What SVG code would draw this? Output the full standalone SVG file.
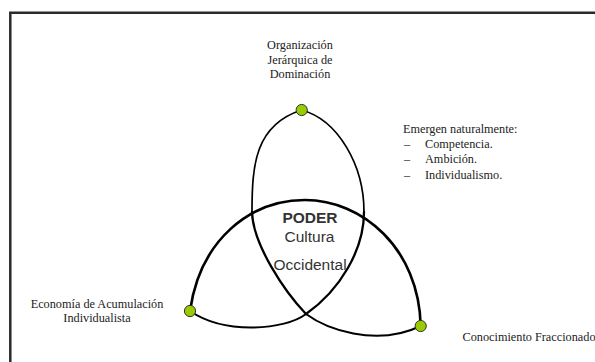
<svg xmlns="http://www.w3.org/2000/svg" width="595" height="362" viewBox="0 0 595 362">
  <style>
    .serif { font-family: "Liberation Serif", "Times New Roman", serif; font-size: 12.25px; fill: #222; }
    .sans { font-family: "Liberation Sans", Arial, sans-serif; font-size: 15.5px; fill: #333; text-anchor: middle; }
    .curve { fill: none; stroke: #000; stroke-linecap: round; }
    .dot { fill: #99cc00; stroke: #333; stroke-width: 1; }
  </style>
  <rect x="0" y="0" width="595" height="362" fill="#fff"/>
  <path d="M10.3,362 V12.8 H595" fill="none" stroke="#2a2a2a" stroke-width="2.5"/>

  <g id="connectors">
    <!-- curve A: top dot, left arc, through center, to right dot -->
    <path class="curve" stroke-width="1.7" d="M301.7,110 C255,125 252,165 252,212"/>
    <path class="curve" stroke-width="2.3" d="M252,212 C253,245 285,292 306,314"/>
    <path class="curve" stroke-width="2" d="M306,314 C325,328 375,348 420.7,326"/>
    <!-- curve B: top dot, right arc, through center, to left dot -->
    <path class="curve" stroke-width="1.7" d="M301.7,110 C338,120 364,165 364,212"/>
    <path class="curve" stroke-width="2.3" d="M364,212 C364,250 340,290 306,314"/>
    <path class="curve" stroke-width="2" d="M306,314 C285,330 225,335 190,311"/>
    <!-- curve C: left dot arching over to right dot -->
    <path class="curve" stroke-width="2.6" d="M190,311 C200,240 250,200 305,200 C362,200 419,248 420.7,326"/>
  </g>

  <g id="node-organizacion">
    <text class="serif" text-anchor="middle" x="300" y="49">Organización</text>
    <text class="serif" text-anchor="middle" x="300" y="63.5">Jerárquica de</text>
    <text class="serif" text-anchor="middle" x="300" y="78">Dominación</text>
    <circle class="dot" cx="301.7" cy="110" r="5.6"/>
  </g>

  <g id="node-economia">
    <text class="serif" text-anchor="middle" x="97" y="308">Economía de Acumulación</text>
    <text class="serif" text-anchor="middle" x="97" y="322">Individualista</text>
    <circle class="dot" cx="190" cy="311" r="5.6"/>
  </g>

  <g id="node-conocimiento">
    <text class="serif" x="462.5" y="341">Conocimiento Fraccionado</text>
    <circle class="dot" cx="420.7" cy="326" r="5.6"/>
  </g>

  <g id="node-poder">
    <text class="sans" x="310" y="222.5" font-weight="bold">PODER</text>
    <text class="sans" x="309.5" y="241.7">Cultura</text>
    <text class="sans" x="310" y="270">Occidental</text>
  </g>

  <g id="note-emergen">
    <text class="serif" x="403" y="132.5">Emergen naturalmente:</text>
    <text class="serif" x="404" y="148">–</text>
    <text class="serif" x="425" y="148">Competencia.</text>
    <text class="serif" x="404" y="163.3">–</text>
    <text class="serif" x="425" y="163.3">Ambición.</text>
    <text class="serif" x="404" y="178.6">–</text>
    <text class="serif" x="425" y="178.6">Individualismo.</text>
  </g>
</svg>
